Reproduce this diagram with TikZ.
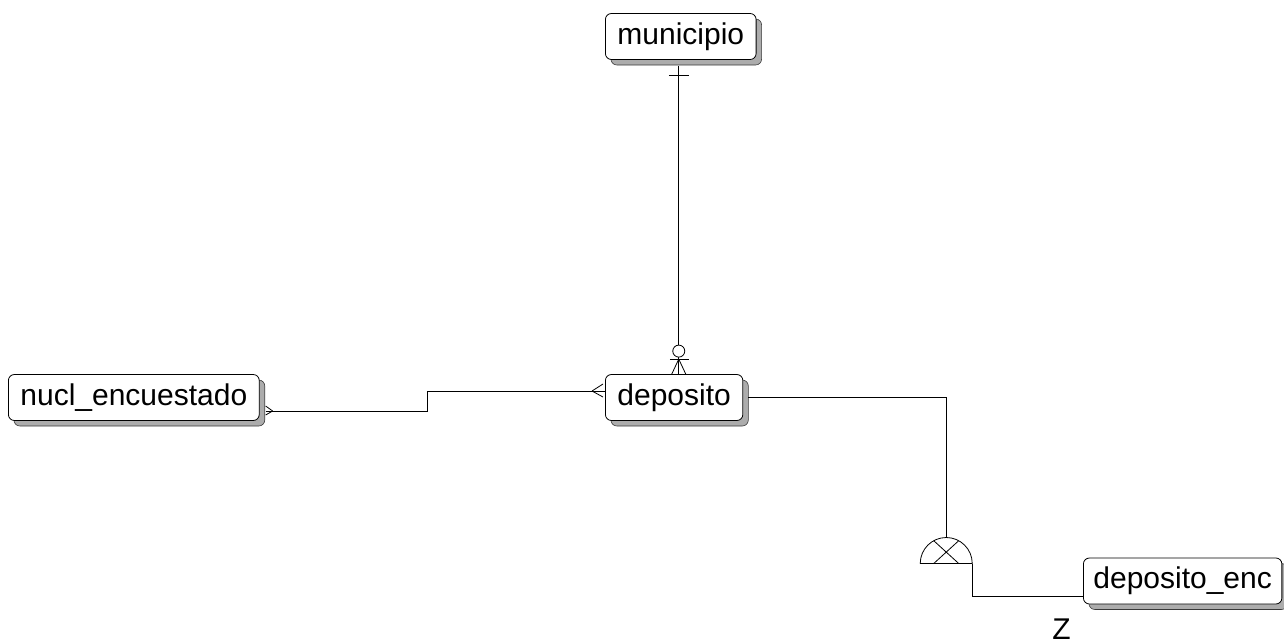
\documentclass[tikz,border=0pt]{standalone}
\usepackage{fontspec}
\setmainfont{Liberation Sans}
\usetikzlibrary{positioning,shadows}

\begin{document}
\begin{tikzpicture}[x=1pt, y=-1pt, line width=0.8pt, entity/.style={draw=black, fill=white, rounded corners=6pt, minimum height=46pt, inner xsep=12pt, inner ysep=0pt, font=\fontsize{30}{36}\selectfont, general shadow={fill=gray!65, draw=gray!45!black, line width=0.6pt, shadow xshift=5.5pt, shadow yshift=-5.5pt}}]
		\useasboundingbox (0,0) rectangle (1284,643);
		\node [entity, anchor=west] (municipio) at (605,36.5) {municipio};
		\node [entity, below=361pt of municipio.west, anchor=west] (deposito) {deposito};
		\node [entity, left=597pt of deposito.west, anchor=west] (nucl) {nucl\_encuestado};
		\node [entity, inner xsep=10pt, below right=183.5pt and 478pt of deposito.west, anchor=west] (enc) {deposito\_enc};
		\node [anchor=base, font=\fontsize{30}{36}\selectfont] (ztag) at ([xshift=-21.5pt,yshift=-58pt]enc.west) {Z};
		% municipio -- deposito
		\draw ([xshift=-2pt,yshift=-6pt]municipio.south) coordinate (m1) -- (m1 |- deposito.north) coordinate (d1);
		\draw ([yshift=-9pt]m1) +(-10,0) -- +(10,0);
		\draw (d1) ++(0,-15) coordinate (d2) -- ++(-7,15) (d2) -- ++(7,15);
		\draw ([xshift=-9pt]d2) -- ([xshift=10pt]d2);
		\draw [fill=white] ([yshift=23pt]d1) circle (6pt);
		% nucl -- deposito
		\draw ([xshift=6pt,yshift=-13.5pt]nucl.east) coordinate (n1) -- ++(162,0) |- ([yshift=6.5pt]deposito.west) coordinate (e1);
		\draw ([xshift=7pt]n1) -- ++(-7,-5) ([xshift=7pt]n1) -- ++(-7,4);
		\draw ([xshift=-13pt]e1) -- ++(11,-7) ([xshift=-13pt]e1) -- ++(11,6);
		% deposito -- deposito_enc
		\coordinate [below right=166pt and 203pt of deposito.east] (sub);
		\draw ([xshift=5pt]deposito.east) -| ([yshift=26pt]sub);
		\draw ([xshift=26pt]sub) arc (0:180:26pt) -- cycle;
		\draw ([xshift=-12.5pt]sub) -- ++(25,-22.8) ([xshift=12.5pt]sub) -- ++(-25,-22.8);
		\draw ([xshift=26pt]sub) |- ([yshift=-15pt]enc.west);
\end{tikzpicture}
\end{document}
